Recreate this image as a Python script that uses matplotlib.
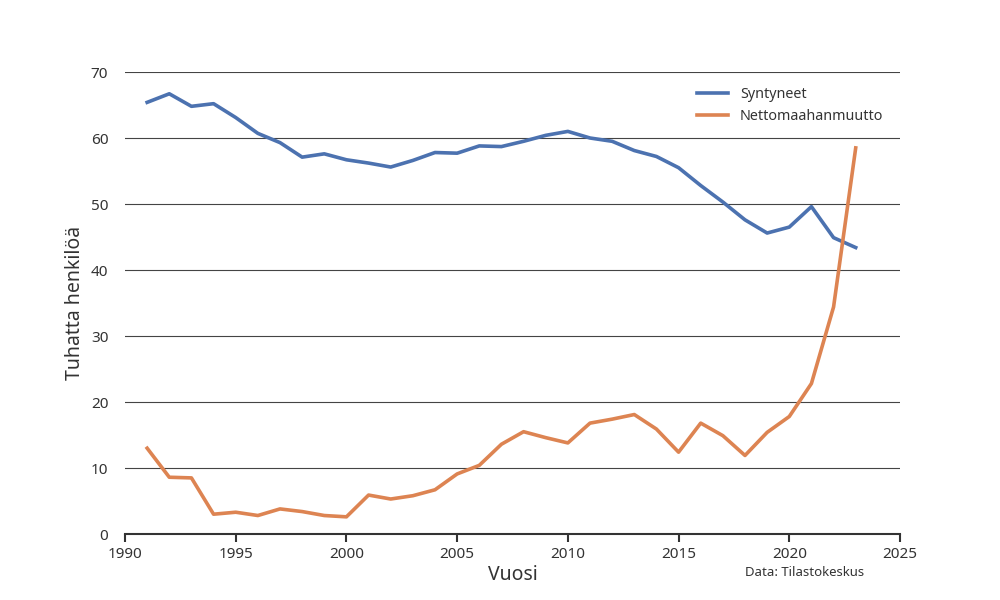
import matplotlib.pyplot as plt

plt.rcParams['font.family'] = ['Noto Sans', 'DejaVu Sans']

# Data (thousands of persons)
years = list(range(1991, 2024))
syntyneet = [65.4, 66.7, 64.8, 65.2, 63.1, 60.7, 59.3, 57.1, 57.6, 56.7,
             56.2, 55.6, 56.6, 57.8, 57.7, 58.8, 58.7, 59.5, 60.4, 61.0,
             60.0, 59.5, 58.1, 57.2, 55.5, 52.8, 50.3, 47.6, 45.6, 46.5,
             49.6, 44.9, 43.4]
nettomaahanmuutto = [13.0, 8.6, 8.5, 3.0, 3.3, 2.8, 3.8, 3.4, 2.8, 2.6,
                     5.9, 5.3, 5.8, 6.7, 9.1, 10.4, 13.6, 15.5, 14.6, 13.8,
                     16.8, 17.4, 18.1, 15.9, 12.4, 16.8, 14.9, 11.9, 15.4, 17.8,
                     22.8, 34.4, 58.5]
xticks = [1990, 1995, 2000, 2005, 2010, 2015, 2020, 2025]
yticks = [0, 10, 20, 30, 40, 50, 60, 70]

text_col = '#333333'
fig, ax = plt.subplots(figsize=(10, 6), dpi=100)

ax.plot(years, syntyneet, color='#4c72b0', lw=2.6, label='Syntyneet')
ax.plot(years, nettomaahanmuutto, color='#dd8452', lw=2.6, label='Nettomaahanmuutto')

ax.set_xlim(1990, 2025)
ax.set_ylim(0, 70)
ax.set_xticks(xticks)
ax.set_yticks(yticks)
ax.grid(axis='y', color='#444444', lw=0.8)
ax.set_axisbelow(True)

for s in ['top', 'right', 'left']:
    ax.spines[s].set_visible(False)
ax.spines['bottom'].set_color('#333333')
ax.spines['bottom'].set_linewidth(1.5)
ax.tick_params(axis='y', length=0, pad=12, labelsize=11, labelcolor=text_col)
ax.tick_params(axis='x', length=6, width=1.5, color='#333333', labelsize=11, labelcolor=text_col)

ax.set_xlabel('Vuosi', fontsize=14, color=text_col, labelpad=2)
ax.set_ylabel('Tuhatta henkilöä', fontsize=14, color=text_col)

ax.legend(loc='upper right', frameon=False, fontsize=10.3, handlelength=2.2,
          labelspacing=0.45, bbox_to_anchor=(0.995, 0.995), labelcolor=text_col)

fig.text(0.745, 0.04, 'Data: Tilastokeskus', fontsize=9.5, color=text_col)

fig.savefig('out.png')
